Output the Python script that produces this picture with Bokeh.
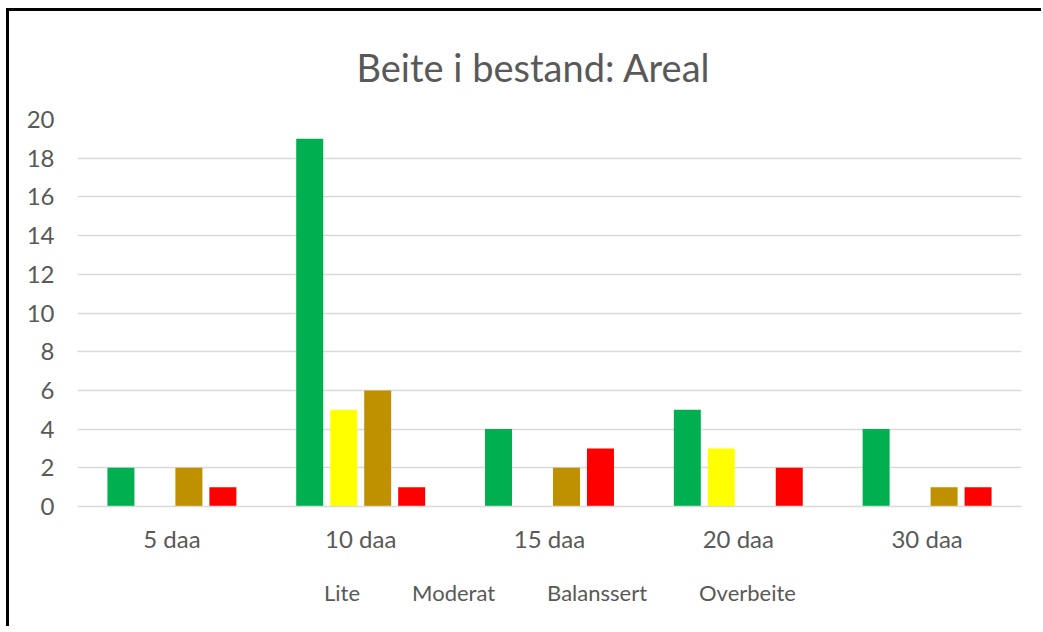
from bokeh.plotting import figure
from bokeh.layouts import column
from bokeh.models import FactorRange, Range1d, Legend, LegendItem, ColumnDataSource, FixedTicker, Title
from bokeh.transform import dodge
from bokeh.embed import file_html
from bokeh.resources import INLINE

categories = ["5 daa", "10 daa", "15 daa", "20 daa", "30 daa"]
series_names = ["Lite", "Moderat", "Balanssert", "Overbeite"]
lite = [2, 19, 4, 5, 4]
moderat = [0, 5, 0, 3, 0]
balanssert = [2, 6, 2, 0, 1]
overbeite = [1, 1, 3, 2, 1]
colors = ["#00B050", "#FFFF00", "#BF9000", "#FF0000"]
y_ticks = list(range(0, 21, 2))
title_text = "Beite i bestand: Areal"

FONT = "Lato"
GREY = "#595959"
TOTAL_W = 68 + 944 + 20

p = figure(x_range=FactorRange(*categories, range_padding=0), y_range=Range1d(0, 20),
           frame_width=944, frame_height=387, output_backend="svg", toolbar_location=None,
           min_border_left=68, min_border_right=20, min_border_top=107, min_border_bottom=60)
p.title = Title(text=title_text, align="left", offset=279,
                text_font=FONT, text_font_size="38px", text_color=GREY,
                text_font_style="normal", standoff=60)

source = ColumnDataSource(dict(cat=categories, Lite=lite, Moderat=moderat,
                               Balanssert=balanssert, Overbeite=overbeite))
offsets = [-0.27, -0.09, 0.09, 0.27]
for name, col, off in zip(series_names, colors, offsets):
    p.vbar(x=dodge("cat", off, range=p.x_range), top=name, bottom=0, width=0.143,
           source=source, fill_color=col, line_color=None)

p.xgrid.grid_line_color = None
p.ygrid.grid_line_color = "#D9D9D9"
p.ygrid.grid_line_width = 1.5
p.ygrid.ticker = FixedTicker(ticks=y_ticks)
p.yaxis.ticker = FixedTicker(ticks=y_ticks)
p.outline_line_color = None

p.yaxis.axis_line_color = None
p.yaxis.major_tick_line_color = None
p.yaxis.minor_tick_line_color = None
p.yaxis.major_label_standoff = 17
p.yaxis.major_label_text_font = FONT
p.yaxis.major_label_text_font_size = "24px"
p.yaxis.major_label_text_color = GREY

p.xaxis.axis_line_color = "#D9D9D9"
p.xaxis.axis_line_width = 1.5
p.xaxis.major_tick_line_color = None
p.xaxis.minor_tick_line_color = None
p.xaxis.major_label_standoff = 11
p.xaxis.major_label_text_font = FONT
p.xaxis.major_label_text_font_size = "24px"
p.xaxis.major_label_text_color = GREY

# legend strip below the chart
lp = figure(width=TOTAL_W, height=60, x_range=Range1d(0, 1), y_range=Range1d(0, 1),
            x_axis_location=None, y_axis_location=None, toolbar_location=None,
            output_backend="svg", min_border=0)
lp.grid.visible = False
lp.outline_line_color = None
legend_renderers = [lp.vbar(x=[], top=[], width=0.1, fill_color=c, line_color=None) for c in colors]
legend = Legend(items=[LegendItem(label=n, renderers=[r]) for n, r in zip(series_names, legend_renderers)],
                orientation="horizontal", location="top_center",
                glyph_width=14, glyph_height=14, label_standoff=8, spacing=30,
                label_text_font=FONT, label_text_font_size="22px", label_text_color=GREY,
                border_line_color=None, background_fill_alpha=0, padding=5, margin=13)
lp.add_layout(legend, "center")

layout = column(p, lp, spacing=0,
                styles={"margin-left": "6px", "margin-top": "8px",
                        "border-left": "3px solid black", "border-top": "3px solid black"})

open("out.html", "w").write(file_html(layout, INLINE))
